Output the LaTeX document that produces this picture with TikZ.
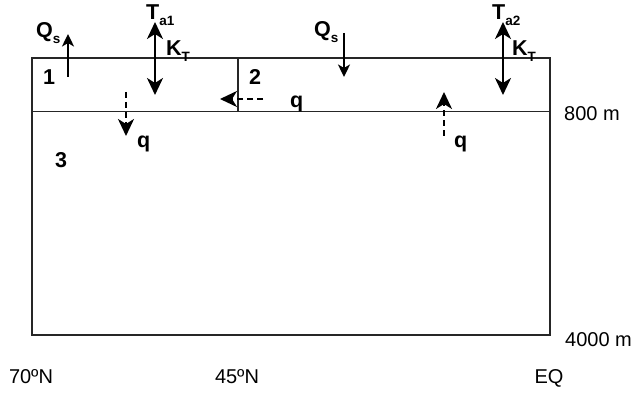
\documentclass[tikz,border=0pt]{standalone}
\usepackage{fontspec}
\setmainfont{Liberation Sans}
\usetikzlibrary{arrows.meta}
\newcommand{\lowsub}[1]{\raisebox{-5.5pt}{\fontsize{13.5}{13.5}\selectfont #1}}
\tikzset{
  boxline/.style={line width=1.1pt, black!85},
  bighead/.tip={Stealth[length=17pt,width=16pt,inset=5pt]},
  smallhead/.tip={Stealth[length=12.5pt,width=12pt,inset=3.5pt]},
  flux/.style={line width=2.3pt, -smallhead},
  dflux/.style={line width=2.3pt, -bighead, dash pattern=on 6pt off 4pt},
  dbl/.style={line width=2.3pt, bighead-bighead},
  blab/.style={inner sep=0pt, font=\fontsize{21.5}{24}\selectfont\bfseries},
  rlab/.style={inner sep=0pt, font=\fontsize{20}{24}\selectfont},
}
\begin{document}
\begin{tikzpicture}[x=1pt,y=-1pt]
\useasboundingbox (0,0) rectangle (635,395);
% box
\coordinate (tl) at (32,58);
\coordinate (br) at (550,335);
\coordinate (ml) at (32,111.5);
\coordinate (mr) at (550,111.5);
\coordinate (dt) at (238,58);
\coordinate (db) at (238,111.5);
\draw[boxline] (tl) rectangle (br);
\draw[boxline] (ml) -- (mr);
\draw[boxline] (dt) -- (db);
% box numbers
\node[blab] (n1) at (49,77) {1};
\node[blab] (n2) at (255,77) {2};
\node[blab] (n3) at (61,160) {3};
% left Qs
\node[blab, anchor=base west] (qs1) at (36,38) {Q\lowsub{s}};
\coordinate (qs1a) at (68,77);
\coordinate (qs1b) at (68,34);
\draw[flux] (qs1a) -- (qs1b);
% Ta1 / KT
\node[blab, anchor=base west] (ta1) at (146,20) {T\lowsub{a1}};
\node[blab, anchor=base west] (kt1) at (166,56) {K\lowsub{T}};
\coordinate (d1a) at (155,22);
\coordinate (d1b) at (155,95);
\draw[dbl] (d1a) -- (d1b);
% right Qs
\node[blab, anchor=base west] (qs2) at (314,37) {Q\lowsub{s}};
\coordinate (qs2a) at (344,33);
\coordinate (qs2b) at (344,77);
\draw[flux] (qs2a) -- (qs2b);
% Ta2 / KT
\node[blab, anchor=base west] (ta2) at (492,20) {T\lowsub{a2}};
\node[blab, anchor=base west] (kt2) at (512,56) {K\lowsub{T}};
\coordinate (d2a) at (503,22);
\coordinate (d2b) at (503,95);
\draw[dbl] (d2a) -- (d2b);
% q fluxes
\coordinate (h1a) at (263,99);
\coordinate (h1b) at (220,99);
\draw[dflux] (h1a) -- (h1b);
\node[blab, anchor=base west] (qh) at (290,108) {q};
\coordinate (v1a) at (126,92);
\coordinate (v1b) at (126,136);
\draw[dflux] (v1a) -- (v1b);
\node[blab, anchor=base west] (qv1) at (137,148) {q};
\coordinate (v2a) at (444,136);
\coordinate (v2b) at (444,92);
\draw[dflux] (v2a) -- (v2b);
\node[blab, anchor=base west] (qv2) at (454,148) {q};
% depth labels
\node[rlab, anchor=base west] (d800) at (564,120.5) {800 m};
\node[rlab, anchor=base west] (d4000) at (565,347) {4000 m};
% latitude labels
\node[rlab, anchor=base] (l70) at (31,384) {70ºN};
\node[rlab, anchor=base] (l45) at (237,384) {45ºN};
\node[rlab, anchor=base] (leq) at (549,384) {EQ};
\end{tikzpicture}
\end{document}
